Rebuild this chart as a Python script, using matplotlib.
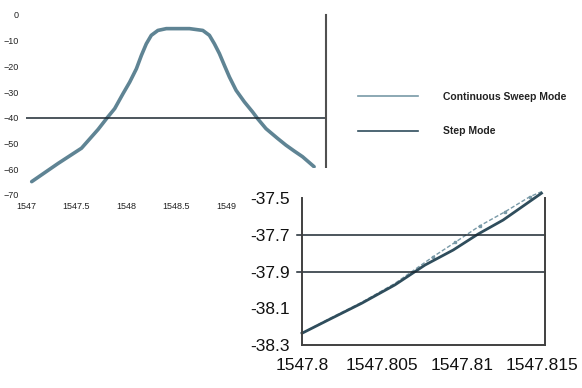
import matplotlib.pyplot as plt
from matplotlib.patches import Rectangle
import numpy as np

plt.rcParams.update({'font.family': ['Liberation Sans', 'DejaVu Sans']})

# full sweep (main chart)
wl_main = [1547.057, 1547.322, 1547.555, 1547.721, 1547.805, 1547.887,
           1547.970, 1548.037, 1548.104, 1548.154, 1548.203, 1548.253, 1548.319, 1548.403,
           1548.486, 1548.635, 1548.768, 1548.834, 1548.884, 1548.934, 1548.984, 1549.034,
           1549.101, 1549.184, 1549.266, 1549.316, 1549.400, 1549.516, 1549.599, 1549.682,
           1549.765, 1549.881]
p_main = [-64.8, -57.7, -51.8, -44.5, -40.3, -36.4,
          -30.6, -26.1, -20.9, -15.7, -11.2, -7.9, -6.0, -5.3,
          -5.3, -5.3, -6.0, -7.9, -11.2, -15.0, -19.6, -24.1,
          -29.3, -33.8, -37.7, -40.3, -44.2, -48.0, -50.6, -52.9,
          -55.1, -59.0]
main_xticks = [1547, 1547.5, 1548, 1548.5, 1549]
main_xlabels = ['1547', '1547.5', '1548', '1548.5', '1549']
main_yticks = [0, -10, -20, -30, -40, -50, -60, -70]

# zoomed region (inset)
wl_step = [1547.8, 1547.80164, 1547.80373, 1547.80581, 1547.80769, 1547.80946,
           1547.81102, 1547.81258, 1547.81498]
p_step = [-38.236, -38.164, -38.073, -37.973, -37.865, -37.783, -37.696, -37.620, -37.474]
wl_cont = [1547.8, 1547.80164, 1547.80373, 1547.80581, 1547.80821, 1547.8096,
           1547.81113, 1547.8127, 1547.81425, 1547.815]
p_cont = [-38.236, -38.160, -38.068, -37.965, -37.819, -37.740, -37.651, -37.575, -37.493, -37.465]
ins_xticks = [1547.8, 1547.805, 1547.81, 1547.815]
ins_xlabels = ['1547.8', '1547.805', '1547.81', '1547.815']
ins_yticks = [-37.5, -37.7, -37.9, -38.1, -38.3]

W, H = 582, 388
fig = plt.figure(figsize=(W / 100, H / 100), dpi=100)

ax = fig.add_axes([26 / W, 1 - 195 / H, 300 / W, 180 / H])
ax.plot(wl_main, p_main, color='#5f8494', lw=2.6, solid_capstyle='round', solid_joinstyle='round')
ax.axhline(-40, color='#1b2730', lw=1.1)
ax.set_xlim(1547, 1550)
ax.set_ylim(-70, 0)
ax.set_xticks(main_xticks)
ax.set_xticklabels(main_xlabels)
ax.set_yticks(main_yticks)
ax.tick_params(length=0, labelsize=6.5, colors='#222222', pad=5)
for s in ['left', 'top', 'bottom']:
    ax.spines[s].set_visible(False)
ax.spines['right'].set_color('#505050')
ax.spines['right'].set_linewidth(1.5)

# white backing for the zoom panel
fig.patches.append(Rectangle((238 / W, 0), 344 / W, 220 / H, transform=fig.transFigure,
                             facecolor='white', edgecolor='none', zorder=1))

ins = fig.add_axes([302 / W, 1 - 345 / H, 243 / W, 147 / H], zorder=2)
ins.set_facecolor('none')
lc, = ins.plot(wl_cont, p_cont, color='#7899a7', lw=1.0, ls=(0, (3, 1.5)),
               marker='s', ms=2.0, markevery=[4, 5, 6, 7, 8], clip_on=False)
ls_, = ins.plot(wl_step, p_step, color='#2f4d5c', lw=2.0, clip_on=False)
for g in [-37.7, -37.9]:
    ins.axhline(g, xmin=-0.022, color='#1b2730', lw=1.1, clip_on=False)
ins.set_xlim(1547.8, 1547.8152)
ins.set_ylim(-38.3, -37.5)
ins.set_xticks(ins_xticks)
ins.set_xticklabels(ins_xlabels)
ins.set_yticks(ins_yticks)
ins.set_yticklabels([f'{v:.1f}' for v in ins_yticks])
ins.tick_params(length=0, labelsize=12.5, colors='#111111')
ins.tick_params(axis='y', pad=9)
ins.tick_params(axis='x', pad=9)
ins.spines['top'].set_visible(False)
for s in ['left', 'right', 'bottom']:
    ins.spines[s].set_color('#404040')
    ins.spines[s].set_linewidth(1.4)

leg = fig.legend([lc, ls_], ['Continuous Sweep Mode', 'Step Mode'],
                 loc='center left', bbox_to_anchor=(358 / W, 1 - 114 / H),
                 frameon=False, borderpad=0, borderaxespad=0,
                 handlelength=5.8, handletextpad=2.4, labelspacing=2.4,
                 prop={'size': 7.5, 'weight': 'bold'})
for h, c in zip(leg.get_lines(), ['#7899a7', '#2f4d5c']):
    h.set_linestyle('-')
    h.set_marker('')
    h.set_linewidth(1.2)
    h.set_color(c)
for t in leg.get_texts():
    t.set_color('#222222')

fig.savefig('out.png', dpi=100)
